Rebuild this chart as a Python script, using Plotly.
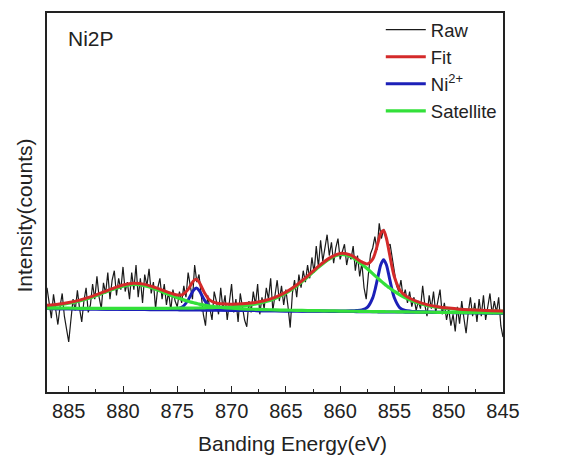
import plotly.graph_objects as go

# ---------------- data ----------------
# raw spectrum: binding energy 887.0 -> 845.0 eV, step 0.2 eV
raw_start = 887.0
raw_step = -0.2
raw_counts = [
    27.5, 24.0, 19.5, 25.8, 21.0, 17.8, 22.5, 26.0, 20.0, 16.5,
    13.2, 19.0, 24.5, 21.5, 26.8, 22.0, 18.5, 24.0, 27.5, 21.0,
    23.0, 28.5, 24.5, 30.5, 25.0, 22.0, 28.8, 26.0, 31.5, 24.5,
    29.5, 32.0, 25.5, 30.0, 27.0, 33.0, 26.5, 29.0, 24.5, 31.5,
    27.0, 33.5, 25.0, 30.0, 23.5, 31.0, 28.0, 32.5, 26.0, 29.0,
    22.0, 27.5, 30.0, 24.5, 28.5, 23.0, 26.5, 21.5, 27.0, 24.0,
    22.5, 26.5, 23.5, 28.0, 25.0, 31.5, 27.5, 24.5, 33.5, 29.0,
    31.0, 26.0, 20.5, 17.5, 25.5, 22.0, 19.0, 26.5, 24.0, 20.5,
    27.5, 22.0, 25.5, 19.0, 23.5, 28.5, 21.0, 24.5, 18.5, 26.0,
    22.5, 19.0, 17.2, 24.0, 21.0, 26.5, 23.0, 28.5, 20.5, 25.0,
    22.0, 27.5, 24.5, 30.0, 21.5, 26.0, 29.5, 24.0, 28.0, 23.0,
    27.0, 22.5, 17.0, 26.0, 29.5, 25.0, 31.0, 27.5, 32.0, 29.0,
    33.5, 30.0, 35.5, 31.5, 38.5, 33.0, 40.0, 34.5, 37.5, 41.5,
    36.0, 39.5, 34.0, 38.0, 40.5, 35.0, 37.0, 39.0, 33.5, 36.5,
    35.0, 38.5, 32.0, 36.0, 30.5, 34.0, 27.5, 24.5, 31.0, 36.5,
    38.0, 41.0, 37.5, 44.5, 40.5, 43.0, 41.5, 38.5, 39.0, 35.0,
    31.5, 28.0, 26.5, 29.5, 25.0, 27.0, 23.5, 26.5, 22.5, 25.0,
    21.5, 24.0, 22.0, 28.0, 23.0, 20.0, 25.5, 22.0, 26.5, 21.0,
    24.0, 27.0, 20.5, 23.5, 19.0, 22.0, 17.5, 20.5, 16.0, 22.5,
    18.0, 24.0, 19.5, 15.5, 21.0, 25.0, 20.0, 23.5, 18.5, 24.5,
    20.0, 25.5, 19.0, 23.0, 26.0, 20.5, 24.0, 21.0, 25.0, 17.5, 14.5,
]
raw_energy = [round(raw_start + raw_step * i, 1) for i in range(len(raw_counts))]

# fitted curves, sampled energies
fit_energy = [887, 886, 885, 884, 883, 882, 881, 880, 879, 878, 877, 876, 875,
              874.5, 874, 873.75, 873.5, 873.25, 873, 872.75, 872.5, 872, 871.5, 871,
              870, 869, 868, 867, 866, 865, 864, 863, 862, 861, 860, 859,
              858.5, 858, 857.5, 857, 856.75, 856.5, 856.25, 856, 855.75, 855.5,
              855.25, 855, 854.5, 854, 853.5, 853,
              852, 851, 850, 849, 848, 847, 846, 845]

fit_total = [22.89, 23.16, 23.61, 24.23, 25.10, 26.15, 27.26, 28.22, 28.68, 28.40, 27.52, 26.47, 25.61,
             25.72, 27.07, 28.25, 29.35, 29.75, 29.04, 27.65, 26.21, 24.22, 23.54, 23.30,
             23.18, 23.26, 23.53, 24.08, 24.98, 26.36, 28.25, 30.58, 33.15, 35.32, 36.56, 36.10,
             35.23, 34.32, 33.78, 35.04, 36.94, 39.55, 41.92, 42.59, 40.69, 37.17,
             33.41, 30.33, 26.89, 25.44, 24.61, 23.97,
             23.06, 22.51, 22.14, 21.86, 21.69, 21.54, 21.43, 21.34]

ni2_peak_a = [22.01, 21.98, 21.95, 21.92, 21.90, 21.87, 21.84, 21.82, 21.80, 21.78, 21.77, 21.79, 21.95,
              22.50, 24.27, 25.62, 26.87, 27.41, 26.86, 25.59, 24.23, 22.43, 21.85, 21.69,
              21.59, 21.54, 21.49, 21.45, 21.41, 21.38, 21.35, 21.32, 21.30, 21.27, 21.24, 21.21,
              21.20, 21.18, 21.17, 21.15, 21.15, 21.14, 21.13, 21.12, 21.11, 21.11,
              21.10, 21.10, 21.08, 21.07, 21.05, 21.04,
              21.01, 20.98, 20.95, 20.92, 20.90, 20.87, 20.84, 20.81]

ni2_peak_b = [22.00, 21.97, 21.94, 21.91, 21.89, 21.86, 21.83, 21.80, 21.77, 21.74, 21.71, 21.69, 21.67,
              21.65, 21.64, 21.63, 21.62, 21.62, 21.61, 21.60, 21.60, 21.58, 21.57, 21.56,
              21.53, 21.51, 21.48, 21.45, 21.42, 21.39, 21.37, 21.35, 21.35, 21.34, 21.35, 21.42,
              21.49, 21.65, 22.31, 24.85, 27.42, 30.65, 33.64, 34.91, 33.62, 30.62,
              27.37, 24.80, 22.22, 21.54, 21.34, 21.25,
              21.12, 21.05, 21.00, 20.95, 20.92, 20.88, 20.85, 20.82]

sat_peak_a = [22.74, 23.00, 23.43, 24.04, 24.89, 25.93, 27.02, 27.94, 28.36, 28.04, 27.11, 25.97, 24.86,
              24.38, 23.92, 23.72, 23.54, 23.38, 23.20, 23.05, 22.94, 22.68, 22.50, 22.33,
              22.10, 21.95, 21.83, 21.74, 21.66, 21.60, 21.54, 21.49, 21.45, 21.40, 21.36, 21.31,
              21.30, 21.27, 21.26, 21.23, 21.23, 21.22, 21.21, 21.20, 21.18, 21.18,
              21.17, 21.17, 21.15, 21.14, 21.11, 21.10,
              21.06, 21.03, 21.00, 20.96, 20.94, 20.91, 20.88, 20.85]

sat_peak_b = [22.14, 22.12, 22.11, 22.09, 22.09, 22.07, 22.06, 22.06, 22.06, 22.06, 22.06, 22.09, 22.11,
              22.11, 22.13, 22.14, 22.15, 22.17, 22.17, 22.18, 22.21, 22.24, 22.30, 22.34,
              22.49, 22.73, 23.11, 23.73, 24.69, 26.10, 28.01, 30.35, 32.92, 35.09, 36.30, 35.76,
              34.81, 33.73, 32.52, 31.23, 30.56, 29.93, 29.30, 28.69, 28.08, 27.56,
              27.04, 26.53, 25.65, 24.87, 24.23, 23.67,
              22.87, 22.36, 22.01, 21.77, 21.61, 21.47, 21.36, 21.27]

x_ticks = [885, 880, 875, 870, 865, 860, 855, 850, 845]

# ---------------- figure ----------------
FONT = "Liberation Sans, Arial, sans-serif"
RED = "#d42a2a"
BLUE = "#1c20b8"
GREEN = "#33e03a"

fig = go.Figure()

fig.add_trace(go.Scatter(x=raw_energy, y=raw_counts, mode="lines", name="Raw",
                         line=dict(color="#1a1a1a", width=1.2), legendrank=1))
fig.add_trace(go.Scatter(x=fit_energy, y=ni2_peak_a, mode="lines", name="Ni<sup>2+</sup>",
                         line=dict(color=BLUE, width=3, shape="spline", smoothing=0.8),
                         legendrank=3, legendgroup="ni"))
fig.add_trace(go.Scatter(x=fit_energy, y=ni2_peak_b, mode="lines", name="Ni<sup>2+</sup>",
                         line=dict(color=BLUE, width=3, shape="spline", smoothing=0.8),
                         showlegend=False, legendgroup="ni"))
fig.add_trace(go.Scatter(x=fit_energy, y=sat_peak_a, mode="lines", name="Satellite",
                         line=dict(color=GREEN, width=3.2, shape="spline", smoothing=0.8),
                         legendrank=4, legendgroup="sat"))
fig.add_trace(go.Scatter(x=fit_energy, y=sat_peak_b, mode="lines", name="Satellite",
                         line=dict(color=GREEN, width=3.2, shape="spline", smoothing=0.8),
                         showlegend=False, legendgroup="sat"))
fig.add_trace(go.Scatter(x=fit_energy, y=fit_total, mode="lines", name="Fit",
                         line=dict(color=RED, width=3, shape="spline", smoothing=0.8),
                         legendrank=2))

axis_common = dict(showline=True, linecolor="#222", linewidth=1.5, mirror=True,
                   showgrid=False, zeroline=False, automargin=False)

fig.update_layout(
    width=569, height=459,
    margin=dict(l=47, r=66, t=11, b=67),
    paper_bgcolor="white", plot_bgcolor="white",
    font=dict(family=FONT, color="#222"),
    showlegend=True,
    legend=dict(x=0.732, y=1.005, xanchor="left", yanchor="top",
                bgcolor="rgba(0,0,0,0)", borderwidth=0,
                font=dict(family=FONT, size=18.5, color="#222"),
                tracegroupgap=0, itemwidth=40),
    xaxis=dict(range=[887, 845], tickmode="array", tickvals=x_ticks,
               ticktext=[str(v) for v in x_ticks],
               ticks="inside", ticklen=6, tickwidth=1.3, tickcolor="#222",
               tickfont=dict(family=FONT, size=20, color="#222"),
               minor=dict(ticks="inside", ticklen=3, tickwidth=1.2, tickcolor="#222", dtick=2.5,
                          tick0=845),
               **axis_common),
    yaxis=dict(range=[0, 100], showticklabels=False, ticks="", **axis_common),
    annotations=[
        dict(text="Ni2P", xref="paper", yref="paper", x=0.042, y=0.932,
             xanchor="left", yanchor="middle", showarrow=False,
             font=dict(family=FONT, size=21, color="#222")),
        dict(text="Intensity(counts)", xref="paper", yref="paper", x=-0.050, y=0.466,
             xanchor="center", yanchor="middle", textangle=-90, showarrow=False,
             font=dict(family=FONT, size=21, color="#222")),
        dict(text="Banding Energy(eV)", xref="paper", yref="paper", x=0.539, y=-0.137,
             xanchor="center", yanchor="middle", showarrow=False,
             font=dict(family=FONT, size=21, color="#222")),
    ],
)

fig.write_html("out.html")
